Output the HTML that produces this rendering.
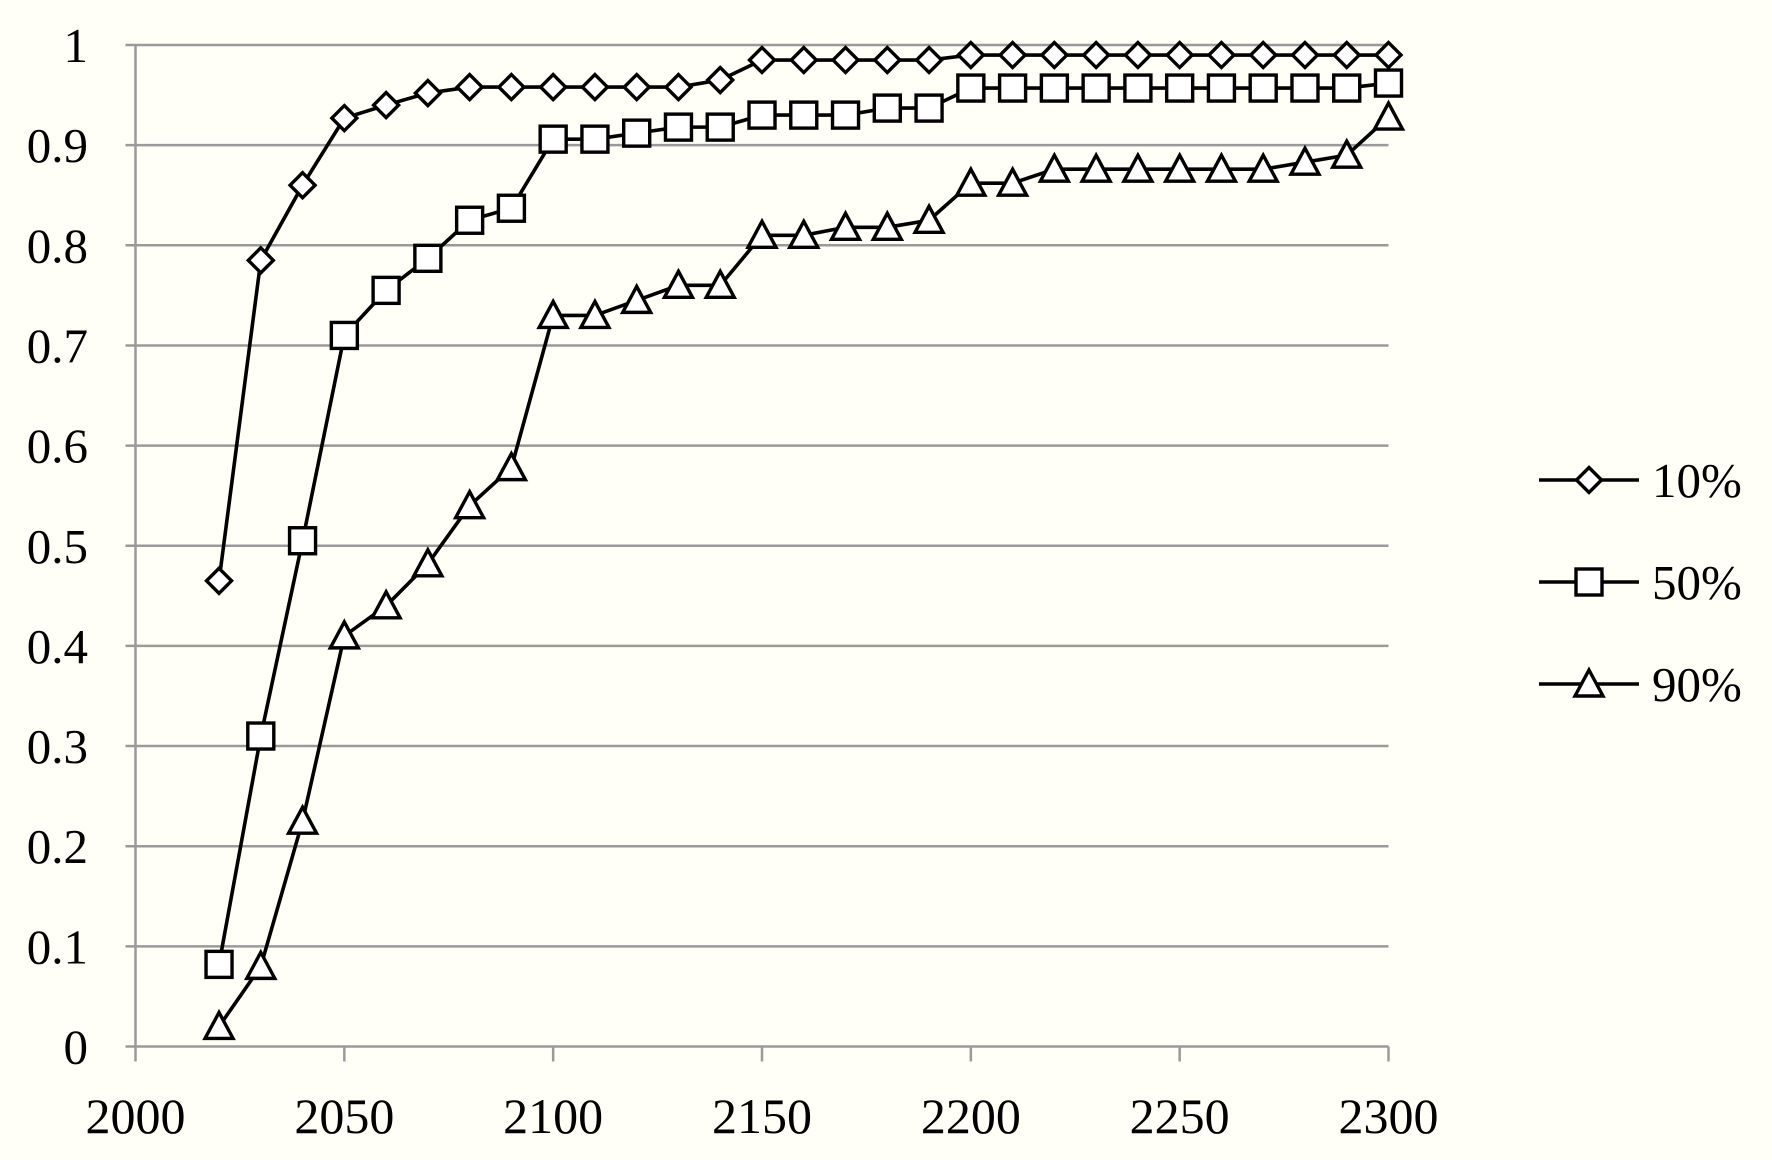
<!DOCTYPE html>
<html><head><meta charset="utf-8"><style>
html,body{margin:0;padding:0;background:#fffff7;}
svg{display:block;}
text{font-family:"Liberation Serif",serif;fill:#000;}
</style></head><body>
<svg id="chart" width="1772" height="1160" viewBox="0 0 1772 1160" xmlns="http://www.w3.org/2000/svg">
<rect width="1772" height="1160" fill="#fffff7"/>
<g id="grid"></g>
<g id="axes"></g>
<g id="series"></g>
<g id="legend"></g>
</svg>
<script>
const years = [2020,2030,2040,2050,2060,2070,2080,2090,2100,2110,2120,2130,2140,2150,2160,2170,2180,2190,2200,2210,2220,2230,2240,2250,2260,2270,2280,2290,2300];
const s10 = [.465,.785,.86,.927,.94,.952,.958,.958,.958,.958,.958,.958,.965,.985,.985,.985,.985,.985,.99,.99,.99,.99,.99,.99,.99,.99,.99,.99,.99];
const s50 = [.082,.31,.505,.71,.755,.787,.825,.837,.906,.906,.912,.918,.918,.93,.93,.93,.937,.937,.957,.957,.957,.957,.957,.957,.957,.957,.957,.957,.962];
const s90 = [.02,.08,.225,.41,.44,.482,.54,.578,.73,.73,.745,.76,.76,.81,.81,.818,.818,.825,.862,.862,.876,.876,.876,.876,.876,.876,.883,.89,.928];
const seriesNames = ["10%","50%","90%"];
const yTicks = [0,0.1,0.2,0.3,0.4,0.5,0.6,0.7,0.8,0.9,1];
const yTickLabels = ["0","0.1","0.2","0.3","0.4","0.5","0.6","0.7","0.8","0.9","1"];
const xTicks = [2000,2050,2100,2150,2200,2250,2300];

const NS="http://www.w3.org/2000/svg";
const X0=135.5,X1=1388.5,Y0=1046.5,Y1=45;
const xs=v=>X0+(v-2000)/300*(X1-X0);
const ys=v=>Y0-v*(Y0-Y1);
function mk(tag,attrs,parent){const e=document.createElementNS(NS,tag);for(const k in attrs)e.setAttribute(k,attrs[k]);parent.appendChild(e);return e;}
const grid=document.getElementById('grid'),axes=document.getElementById('axes'),ser=document.getElementById('series'),leg=document.getElementById('legend');
yTicks.forEach((t,i)=>{
  const y=ys(t);
  const l=mk('line',{x1:X0-10,x2:X1,y1:y,y2:y,stroke:'#9a9a9a','stroke-width':2.5},grid);
  
  
  const tx=mk('text',{x:88,y:y+17,'font-size':49,'text-anchor':'end'},axes);
  tx.textContent=yTickLabels[i];
  
  
});
const ya=mk('line',{x1:X0,x2:X0,y1:Y1,y2:Y0,stroke:'#9a9a9a','stroke-width':2.5},axes);


xTicks.forEach(t=>{
  const x=xs(t);
  const l=mk('line',{x1:x,x2:x,y1:Y0,y2:Y0+15,stroke:'#9a9a9a','stroke-width':2.5},axes);
  
  
  const tx=mk('text',{x:x,y:1133,'font-size':50,'text-anchor':'middle'},axes);
  tx.textContent=String(t);
  
  
});
function marker(type,x,y,parent){
  let e;
  if(type==='d') e=mk('polygon',{points:`${x},${y-12.5} ${x+12.5},${y} ${x},${y+12.5} ${x-12.5},${y}`},parent);
  else if(type==='s') e=mk('rect',{x:x-13,y:y-13,width:26,height:26},parent);
  else e=mk('polygon',{points:`${x},${y-14} ${x+14},${y+12} ${x-14},${y+12}`},parent);
  e.setAttribute('fill','#fff');e.setAttribute('stroke','#000');e.setAttribute('stroke-width',3.4);
  return e;
}
const all=[s10,s50,s90],types=['d','s','t'],nm=['series-10pct','series-50pct','series-90pct'];
all.forEach((vals,si)=>{
  const g=mk('g',{},ser);
  
  
  const p=mk('polyline',{points:vals.map((v,i)=>xs(years[i])+','+ys(v)).join(' '),fill:'none',stroke:'#000','stroke-width':3.6},g);
  
  
  vals.forEach((v,i)=>{
    const m=marker(types[si],xs(years[i]),ys(v),g);
    
    
  });
  const ly=480+si*102;
  const lg=mk('g',{},leg);
  
  
  mk('line',{x1:1539,x2:1639,y1:ly,y2:ly,stroke:'#000','stroke-width':3.6},lg);
  marker(types[si],1589,ly,lg);
  const t=mk('text',{x:1652,y:ly+17,'font-size':49},lg);
  t.textContent=seriesNames[si];
});
</script>
</body></html>
